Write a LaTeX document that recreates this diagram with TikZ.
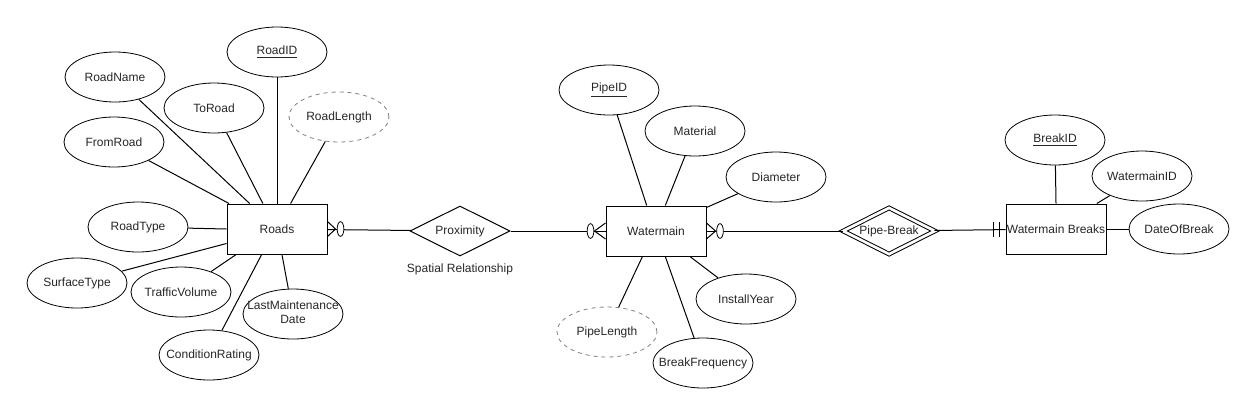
\documentclass[tikz,border=0pt]{standalone}
\usepackage{fontspec}
\setmainfont{Liberation Sans}
\usetikzlibrary{shapes.geometric,positioning,calc}
\tikzset{font=\fontsize{9pt}{10.5pt}\selectfont}
\tikzset{every node/.append style={text=black!85}}
\tikzset{
  entity/.style={draw,rectangle,minimum width=75pt,minimum height=37.5pt,inner sep=0pt,line width=.75pt},
  attr/.style={draw,ellipse,minimum width=75pt,minimum height=37.5pt,inner sep=0pt,line width=.6pt},
  derived/.style={attr,dashed,draw=black!50},
  rel/.style={draw,diamond,aspect=2,minimum width=75pt,minimum height=37.5pt,inner sep=0pt,line width=.75pt},
  weakrel/.style={rel,double,double distance=2pt,minimum width=69pt,minimum height=35pt},
  link/.style={line width=.75pt},
  zero/.style={draw,ellipse,fill=white,minimum width=5pt,minimum height=11pt,inner sep=0pt,line width=.6pt}
}
\newcommand{\lbl}[1]{\makebox[0pt]{#1}}

\begin{document}
\begin{tikzpicture}[x=.75pt,y=-.75pt]
  \useasboundingbox (0,0) rectangle (1255,415);
  % Roads
  \node[entity] (roads) at (277,229) {Roads};
  \node[attr] (rid) at (277,52) {\lbl{\underline{RoadID}}};
  \node[attr] (rname) at (115,77) {\lbl{RoadName}};
  \node[attr] (rto) at (214,108) {\lbl{ToRoad}};
  \node[derived] (rlength) at (339,117) {\lbl{RoadLength}};
  \node[attr] (rfrom) at (114,142) {\lbl{FromRoad}};
  \node[attr] (rtype) at (138,227) {\lbl{RoadType}};
  \node[attr] (rsurf) at (77,283) {\lbl{SurfaceType}};
  \node[attr] (rtraffic) at (181,292) {\lbl{TrafficVolume}};
  \node[attr] (rmaint) at (293,314) {\lbl{\begin{tabular}{@{}c@{}}LastMaintenance\\Date\end{tabular}}};
  \node[attr] (rcond) at (209,355) {\lbl{ConditionRating}};
  \draw[link] (rid) -- (roads.north);
  \draw[link] (rname) -- (roads.137);
  \draw[link] (rto) -- (roads.119);
  \draw[link] (rlength) -- (roads.62);
  \draw[link] (rfrom) -- (roads.152);
  \draw[link] (rtype) -- (roads.west);
  \draw[link] (rsurf) -- (roads.196);
  \draw[link] (rtraffic) -- (roads.212);
  \draw[link] (rcond) -- (roads.239);
  \draw[link] (rmaint) -- (roads.281);

  % relationship
  \node[rel] (prox) at (460,231) {Proximity};
  \node[below=2pt of prox] (spatial) {Spatial Relationship};

  % Watermain
  \node[entity] (water) at (656,231) {Watermain};
  \node[attr] (pid) at (609,90) {\lbl{\underline{PipeID}}};
  \node[attr] (pmat) at (695,131) {\lbl{Material}};
  \node[attr] (pdiam) at (776,177) {\lbl{Diameter}};
  \node[derived] (plen) at (607,332) {\lbl{PipeLength}};
  \node[attr] (pfreq) at (703,363) {\lbl{BreakFrequency}};
  \node[attr] (pyear) at (746,299) {\lbl{InstallYear}};
  \draw[link] (pid) -- (water.110);
  \draw[link] (pmat) -- (water.70);
  \draw[link] (pdiam) -- (water.25);
  \draw[link] (plen) -- (water.242);
  \draw[link] (pfreq) -- (water.290);
  \draw[link] (pyear) -- (water.323);

  \node[weakrel] (pbreak) at (889,231) {Pipe-Break};

  % Watermain Breaks
  \node[entity] (wbreaks) at (1056,229) {\lbl{Watermain Breaks}};
  \node[attr] (bid) at (1055,140) {\lbl{\underline{BreakID}}};
  \node[attr] (bwid) at (1142,176) {\lbl{WatermainID}};
  \node[attr] (bdate) at (1179,229) {\lbl{DateOfBreak}};
  \draw[link] (bid) -- (wbreaks.north);
  \draw[link] (bwid) -- (wbreaks.32);
  \draw[link] (bdate) -- (wbreaks.east);

  % connectors
  \draw[link] (roads) -- (prox);
  \draw[link] (prox) -- (water);
  \draw[link] (water) -- (pbreak);
  \draw[link] (pbreak) -- (wbreaks);

  % cardinality marks
  \draw[link] ($(roads.east)+(0,-7.5)$) -- ($(roads.east)+(8,0)$) -- ($(roads.east)+(0,7.5)$);
  \node[zero] (rzero) at ($(roads.east)+(13,0)$) {};
  \draw[link] ($(water.west)+(0,-8)$) -- ($(water.west)+(-11,0)$) -- ($(water.west)+(0,8)$);
  \node[zero] (wzeroa) at ($(water.west)+(-15,0)$) {};
  \draw[link] ($(water.east)+(0,-8)$) -- ($(water.east)+(9,0)$) -- ($(water.east)+(0,8)$);
  \node[zero] (wzerob) at ($(water.east)+(13.5,0)$) {};
  \draw[link] ($(wbreaks.west)+(-6,-7.5)$) -- ($(wbreaks.west)+(-6,7.5)$);
  \draw[link] ($(wbreaks.west)+(-12,-7.5)$) -- ($(wbreaks.west)+(-12,7.5)$);
\end{tikzpicture}
\end{document}
